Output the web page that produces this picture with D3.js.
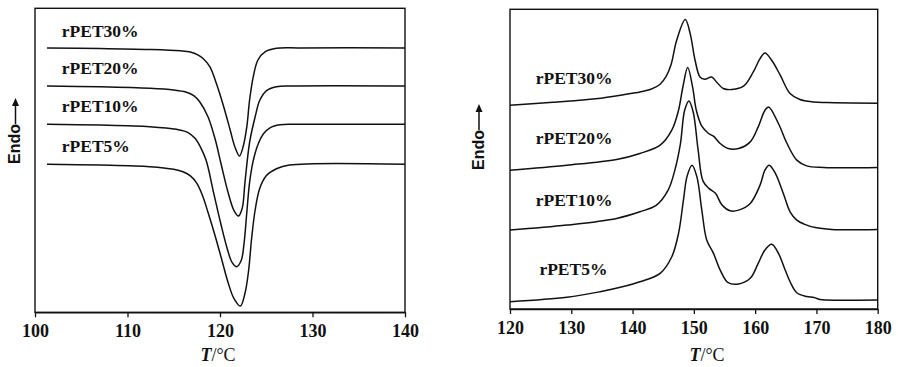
<!DOCTYPE html>
<html lang="en">
<head>
<meta charset="UTF-8">
<script src="https://d3js.org/d3.v7.min.js"></script>
<title>DSC curves rPET</title>
<style>
  body { margin: 0; background: #fff; }
  svg { display: block; }
  .tick text { font-family: 'Liberation Serif', 'Times New Roman', serif; font-size: 18px; font-weight: 700; }
</style>
</head>
<body>
<svg width="898" height="367"></svg>
<script>
  // sample names, same order in both panels (top to bottom)
  const samples = ["rPET30%", "rPET20%", "rPET10%", "rPET5%"];

  // left panel: cooling curves, T (°C) vs heat flow (a.u.)
  const coolTicks = [100, 110, 120, 130, 140];
  const cool30 = [[101.3,264.3],[107,263.8],[112.4,262.8],[115.7,261.5],[116.8,260.3],[117.6,257.5],[118.2,253.5],[118.9,245.6],[119.6,229],[120.4,205.6],[121.1,182.3],[121.6,165.6],[122.1,156.3],[122.5,165.6],[122.9,185.6],[123.2,212.3],[123.6,235.6],[124.1,252.3],[124.9,260.6],[126.1,264],[128.6,264.4],[140,264.4]];
  const cool20 = [[101.3,226.3],[107,225.5],[112.4,224],[115,222.3],[116.3,220.3],[117.2,216.5],[117.8,210.6],[118.7,195.6],[119.5,172.3],[120.1,149],[120.9,119],[121.5,102],[122,96.3],[122.4,104],[122.7,130],[123.2,170],[123.8,195.6],[124.3,212],[125,221.5],[126.1,225.6],[128,226.3],[140,226.3]];
  const cool10 = [[101.3,188],[107,187.2],[112.4,185.6],[115.3,183],[116.5,180],[117.3,174],[117.9,165],[118.5,152],[119.3,120],[120.1,88],[120.8,63],[121.3,50],[121.8,45.6],[122.3,52],[122.6,69],[122.9,100],[123.2,130],[123.6,152],[124.2,170],[124.7,178.5],[125.4,184.5],[126.5,187.5],[128,188],[140,188]];
  const cool5 = [[101.3,148],[107,147.2],[112.4,145.6],[115,143],[116,140.5],[116.8,136.5],[117.5,129],[118.1,117],[118.7,100],[119.5,75.6],[120.2,52.3],[120.9,29],[121.5,14],[122.2,6.3],[122.7,19],[123.1,42.3],[123.4,72.3],[123.8,102.3],[124.3,124],[125,136.5],[126.1,143.5],[127.5,147.3],[140,148]];

  // right panel: heating curves
  const heatTicks = [120, 130, 140, 150, 160, 170, 180];
  const heat30 = [[120,204],[127,207],[134,210.5],[139,215],[141.2,217.3],[143,220],[144.5,225],[145.5,233],[146.3,245],[147.2,269],[148.6,289.7],[149.4,275.7],[150.2,249],[151,232.3],[151.8,230],[152.9,232.3],[153.7,227.3],[154.8,220.7],[156.2,219.7],[158.1,223],[159.7,237.3],[160.8,250.7],[161.6,256.3],[162.7,249],[164.1,234],[165.7,215.7],[167.3,209.7],[169.5,207.3],[171.7,206.7],[180,206]];
  const heat20 = [[120,139],[129.3,144],[137.4,149.7],[141.2,155.7],[144.5,164],[146.4,179],[147.5,199],[148.2,222],[149,241.7],[149.8,222],[150.4,199],[151.3,183],[152.4,175.7],[153.2,173],[154.3,165.7],[155.6,160.7],[157.3,160.7],[159.2,167.3],[160.5,182.3],[161.6,199],[162.2,202.3],[163.8,185.7],[165.2,165.7],[166.8,149],[168.4,143.3],[171.2,141.7],[180,141.7]];
  const heat10 = [[120,79],[129.3,84],[137.4,90.7],[141.2,97.3],[143.9,104],[145.8,119],[146.9,139],[147.8,165],[148.5,199],[149.2,208.3],[149.9,197],[150.7,159],[151.5,128],[152.5,120.5],[153.5,116],[154.6,104],[155.9,98.3],[157.3,99],[159.2,105.7],[160.8,124],[161.6,139],[162.3,144],[163.3,135.7],[164.6,115.7],[165.7,97.3],[166.8,89],[168,85],[169.8,81.5],[172.5,79.7],[180,79.7]];
  const heat5 = [[120,7.3],[129.3,11.7],[134.7,17.3],[138.5,22.5],[141.2,27.3],[144.5,35.7],[146.4,52.3],[147.5,75.7],[148.3,109],[148.9,133],[149.7,144],[150.5,132.3],[151.3,99],[152.1,69],[153.2,55.7],[154.3,39],[155.6,26.3],[157.3,25],[159.2,30.7],[160.5,45.7],[161.6,59],[162.7,64.7],[163.8,55.7],[164.9,39],[165.7,27.3],[166.8,16.3],[168.4,12.5],[169.6,11.5],[170.6,9.5],[171.7,9],[180,9]];

  // where the sample names sit, in data units [T, value]
  const coolLabelAt = [[102.9,275.6],[102.9,238.3],[102.9,200.6],[102.9,160]];
  const heatLabelAt = [[124.2,225.7],[124.2,164.7],[124.2,103.3],[124.8,34]];

  const svg = d3.select("svg");
  const serif = "'Liberation Serif', 'Times New Roman', serif";

  const panels = [
    { xd: [100, 140], xr: [35, 405], yd: [0, 304], yr: [312.3, 8.3], ticks: coolTicks,
      curves: [cool30, cool20, cool10, cool5], labels: coolLabelAt, titleX: 218, endoX: 20, endoY: 164 },
    { xd: [120, 180], xr: [510, 877.7], yd: [0, 300], yr: [309, 9.3], ticks: heatTicks,
      curves: [heat30, heat20, heat10, heat5], labels: heatLabelAt, titleX: 707, endoX: 483.5, endoY: 170 }
  ];

  const line = (x, y) => d3.line()
    .x(d => x(d[0]))
    .y(d => y(d[1]))
    .curve(d3.curveCatmullRom.alpha(0.5));

  panels.forEach(p => {
    const x = d3.scaleLinear().domain(p.xd).range(p.xr);
    const y = d3.scaleLinear().domain(p.yd).range(p.yr);
    const g = svg.append("g");

    // curves
    g.selectAll("path.curve")
      .data(p.curves)
      .enter()
      .append("path")
      .attr("class", "curve")
      .attr("d", line(x, y))
      .attr("fill", "none")
      .attr("stroke", "#111")
      .attr("stroke-width", 1.5);

    // frame
    g.append("rect")
      .attr("x", p.xr[0]).attr("y", p.yr[1])
      .attr("width", p.xr[1] - p.xr[0]).attr("height", p.yr[0] - p.yr[1])
      .attr("fill", "none").attr("stroke", "#111").attr("stroke-width", 1.4);

    // bottom axis
    const ax = g.append("g")
      .attr("transform", `translate(0,${p.yr[0]})`)
      .call(d3.axisBottom(x).tickValues(p.ticks).tickSize(5).tickSizeOuter(0).tickPadding(7));
    ax.attr("font-family", null).attr("font-size", null);
    ax.select(".domain").attr("stroke-width", 1.4).attr("stroke", "#111");
    ax.selectAll(".tick line").attr("stroke-width", 1.3).attr("stroke", "#111");
    ax.selectAll(".tick text").attr("fill", "#111");

    // sample names
    g.selectAll("text.lab")
      .data(samples)
      .enter()
      .append("text")
      .attr("class", "lab")
      .attr("x", (d, i) => x(p.labels[i][0]))
      .attr("y", (d, i) => y(p.labels[i][1]))
      .style("font-family", serif).style("font-size", "17.5px").style("font-weight", "bold")
      .attr("fill", "#111")
      .text(d => d);

    // x title
    const t = g.append("text")
      .attr("x", p.titleX).attr("y", 361)
      .attr("text-anchor", "middle")
      .style("font-family", serif).style("font-size", "18px")
      .attr("fill", "#111");
    t.append("tspan").attr("font-style", "italic").attr("font-weight", "bold").text("T");
    t.append("tspan").text("/°C");

    // y title: "Endo" with upward arrow
    const e = g.append("g").attr("transform", `translate(${p.endoX},${p.endoY}) rotate(-90)`);
    e.append("text")
      .attr("x", 0).attr("y", 0)
      .style("font-family", "'Liberation Sans', Arial, sans-serif")
      .style("font-size", "16px").style("font-weight", "bold")
      .attr("fill", "#111")
      .text("Endo");
    e.append("line")
      .attr("x1", 40).attr("y1", -4.5).attr("x2", 60).attr("y2", -4.5)
      .attr("stroke", "#111").attr("stroke-width", 1.5);
    e.append("path")
      .attr("d", "M58,-8 L66,-4.5 L58,-1 Z")
      .attr("fill", "#111");
  });
</script>
</body>
</html>
